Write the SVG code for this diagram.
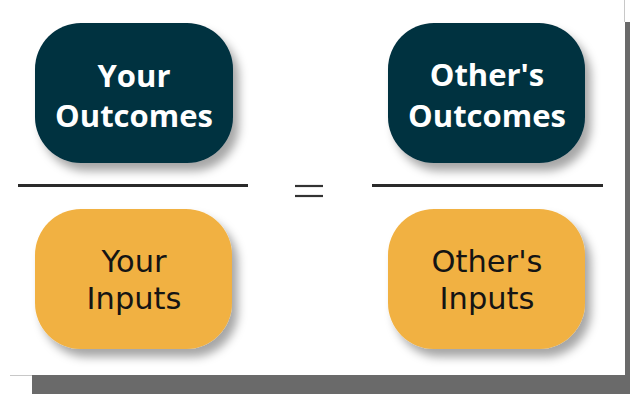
<svg xmlns="http://www.w3.org/2000/svg" width="630" height="394" viewBox="0 0 630 394">
<style>
  .out rect { fill: #06303f; }
  .inp rect { fill: #f1b142; }
  .out text { fill: #ffffff; font-family: "Open Sans", "Liberation Sans", sans-serif; font-weight: 700; font-size: 31px; text-anchor: middle; }
  .inp text { fill: #141414; font-family: "DejaVu Sans", "Liberation Sans", sans-serif; font-weight: 400; font-size: 30.5px; text-anchor: middle; }
  .bar { stroke: #2a2a2a; stroke-width: 3; }
  .eq { stroke: #333333; stroke-width: 2.2; }
</style>
<defs>
  <filter id="sh" x="-20%" y="-20%" width="150%" height="160%">
    <feDropShadow dx="6" dy="8" stdDeviation="5" flood-color="#000" flood-opacity="0.35"/>
  </filter>
</defs>
<rect x="0" y="0" width="630" height="394" fill="#ffffff"/>
<!-- frame shadow -->
<rect x="625" y="22" width="5" height="372" fill="#6a6a6a"/>
<rect x="32" y="375" width="598" height="19" fill="#6a6a6a"/>
<line x1="624.5" y1="0" x2="624.5" y2="22" stroke="#c8c8c8" stroke-width="1"/>
<line x1="10" y1="375.5" x2="32" y2="375.5" stroke="#c8c8c8" stroke-width="1"/>

<g id="your-outcomes" class="out">
  <rect x="35" y="23" width="198" height="140" rx="46" filter="url(#sh)"/>
  <text x="134" y="87">Your</text>
  <text x="134" y="127">Outcomes</text>
</g>
<g id="others-outcomes" class="out">
  <rect x="388" y="23" width="197" height="140" rx="46" filter="url(#sh)"/>
  <text x="487" y="86">Other's</text>
  <text x="487" y="127">Outcomes</text>
</g>
<g id="your-inputs" class="inp">
  <rect x="35" y="209" width="197" height="140" rx="46" filter="url(#sh)"/>
  <text x="134" y="272">Your</text>
  <text x="134" y="309">Inputs</text>
</g>
<g id="others-inputs" class="inp">
  <rect x="388" y="209" width="197" height="140" rx="46" filter="url(#sh)"/>
  <text x="487" y="272">Other's</text>
  <text x="487" y="309">Inputs</text>
</g>
<g id="connectors">
  <line class="bar" x1="18" y1="185.5" x2="248" y2="185.5"/>
  <line class="bar" x1="372" y1="185.5" x2="603" y2="185.5"/>
  <line class="eq" x1="295" y1="186" x2="323" y2="186"/>
  <line class="eq" x1="295" y1="196" x2="323" y2="196"/>
</g>
</svg>
